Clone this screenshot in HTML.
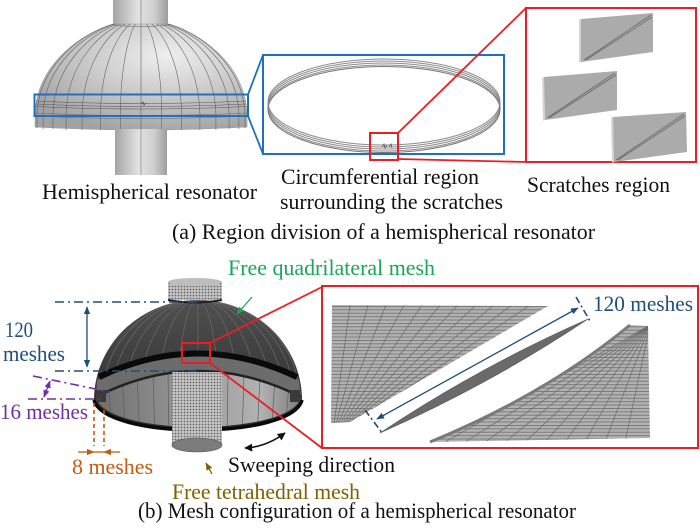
<!DOCTYPE html>
<html><head><meta charset="utf-8"><style>
html,body{margin:0;padding:0;background:#fff;}
svg{display:block;}
text{font-family:"Liberation Serif","Times New Roman",serif;font-size:22px;}
</style></head><body>
<svg width="700" height="531" viewBox="0 0 700 531" xmlns="http://www.w3.org/2000/svg">
<defs>
<linearGradient id="cyl" x1="0" x2="1" y1="0" y2="0">
<stop offset="0" stop-color="#a4a4a4"/><stop offset="0.45" stop-color="#e2e2e2"/><stop offset="0.75" stop-color="#cfcfcf"/><stop offset="1" stop-color="#9c9c9c"/></linearGradient>
<radialGradient id="domeG" cx="0.62" cy="0.3" r="0.75">
<stop offset="0" stop-color="#efefef"/><stop offset="0.5" stop-color="#cacaca"/><stop offset="1" stop-color="#a2a2a2"/></radialGradient>
<linearGradient id="darkG" x1="0" x2="0" y1="0" y2="1">
<stop offset="0" stop-color="#505050"/><stop offset="1" stop-color="#2a2a2a"/></linearGradient>
<linearGradient id="inG" x1="0" x2="1" y1="0" y2="0">
<stop offset="0" stop-color="#6e6e6e"/><stop offset="0.5" stop-color="#9c9c9c"/><stop offset="0.8" stop-color="#b2b2b2"/><stop offset="1" stop-color="#7e7e7e"/></linearGradient>
<pattern id="dots" width="3" height="3" patternUnits="userSpaceOnUse"><rect width="3" height="3" fill="#c4c4c4"/><circle cx="1.5" cy="1.5" r="0.85" fill="#646464"/></pattern>
<pattern id="hl" width="10" height="3.4" patternUnits="userSpaceOnUse"><rect width="10" height="3.4" fill="#b2b2b2"/><rect width="10" height="0.8" fill="#707070"/></pattern>
<clipPath id="ltri"><path d="M332,305 L548,306 L350,422 L331,423 Z"/></clipPath>
<clipPath id="rtri"><path d="M430,442 Q545,395 630,325 L648,326 L650,438 Z"/></clipPath>
<clipPath id="domeC"><path d="M94,400 A104,100 0 0 1 302,400 Z"/></clipPath>
<clipPath id="inC"><path d="M96,397 Q198,345 301,397 C292,437 104,437 96,397 Z"/></clipPath>
<marker id="mN" viewBox="0 0 10 10" refX="9" refY="5" markerWidth="6" markerHeight="6" orient="auto-start-reverse"><path d="M0,1 L10,5 L0,9 z" fill="#1f4e79"/></marker>
<marker id="mP" viewBox="0 0 10 10" refX="9" refY="5" markerWidth="6" markerHeight="6" orient="auto-start-reverse"><path d="M0,1 L10,5 L0,9 z" fill="#7030a0"/></marker>
<marker id="mO" viewBox="0 0 10 10" refX="9" refY="5" markerWidth="6" markerHeight="6" orient="auto-start-reverse"><path d="M0,1 L10,5 L0,9 z" fill="#c55a11"/></marker>
<marker id="mG" viewBox="0 0 10 10" refX="9" refY="5" markerWidth="6" markerHeight="6" orient="auto-start-reverse"><path d="M0,1 L10,5 L0,9 z" fill="#1aa557"/></marker>
<marker id="mB" viewBox="0 0 10 10" refX="9" refY="5" markerWidth="5" markerHeight="5" orient="auto-start-reverse"><path d="M0,0 L10,5 L0,10 z" fill="#111"/></marker>
<marker id="mY" viewBox="0 0 10 10" refX="9" refY="5" markerWidth="6" markerHeight="6" orient="auto-start-reverse"><path d="M0,1 L10,5 L0,9 z" fill="#7f6000"/></marker>
</defs>

<!-- ===== TOP RESONATOR ===== -->
<rect x="113" y="0" width="55" height="25" fill="url(#cyl)"/>
<line x1="141" y1="0" x2="141" y2="24" stroke="#777" stroke-width="0.6"/>
<path d="M35,114 C37,62 85,32 113,24 L169,24 C197,32 245,62 247,114 L247,127 Q141,133 35,127 Z" fill="url(#domeG)" stroke="#999" stroke-width="0.6"/>
<g fill="none" stroke="#666" stroke-width="0.6">
<path d="M168.5,24 C195.9,32 243,62 245,114 L245,128"/>
<path d="M166.9,24 C192.7,32 237.1,62 238.9,114 L238.9,129"/>
<path d="M164.3,24 C187.5,32 227.4,62 229.1,114 L229.1,129"/>
<path d="M160.8,24 C180.6,32 214.5,62 215.9,114 L215.9,130"/>
<path d="M156.6,24 C172.1,32 198.8,62 199.9,114 L199.9,130"/>
<path d="M151.7,24 C162.4,32 180.8,62 181.6,114 L181.6,130"/>
<path d="M146.5,24 C151.9,32 161.3,62 161.7,114 L161.7,130"/>
<path d="M141,24 L141,130"/>
<path d="M135.5,24 C130.1,32 120.7,62 120.3,114 L120.3,130"/>
<path d="M130.3,24 C119.6,32 101.2,62 100.4,114 L100.4,130"/>
<path d="M125.4,24 C109.9,32 83.2,62 82.1,114 L82.1,130"/>
<path d="M121.2,24 C101.4,32 67.5,62 66.1,114 L66.1,130"/>
<path d="M117.7,24 C94.5,32 54.6,62 52.9,114 L52.9,129"/>
<path d="M115.1,24 C89.3,32 44.9,62 43.1,114 L43.1,129"/>
<path d="M113.5,24 C86.1,32 39,62 37,114 L37,128"/>
<path d="M113,25 Q141,28 169,25"/>
<path d="M36,101 Q141,106 246,101" stroke="#555"/>
<path d="M36,104 Q141,109 246,104" stroke="#555"/>
<path d="M36,106.5 Q141,111.5 246,106.5" stroke="#555"/>
<path d="M35,113 Q141,118 247,113"/>
<path d="M35,116 Q141,121 247,116"/>
</g>
<path d="M141,104 l2,-2 l1,3 l2,-2" stroke="#444" stroke-width="0.7" fill="none"/>
<rect x="115" y="129" width="52" height="46" fill="url(#cyl)"/>
<line x1="141" y1="129" x2="141" y2="175" stroke="#777" stroke-width="0.6"/>
<rect x="34.5" y="94.5" width="213.5" height="21.5" fill="none" stroke="#2070c0" stroke-width="2"/>
<line x1="248" y1="94.5" x2="263" y2="55" stroke="#2070c0" stroke-width="1.8"/>
<line x1="248" y1="116" x2="263" y2="154" stroke="#2070c0" stroke-width="1.8"/>

<!-- ===== RING ===== -->
<rect x="263" y="55" width="241" height="99" fill="none" stroke="#2070c0" stroke-width="2"/>
<g fill="none" stroke="#8d8d8d" stroke-width="1">
<ellipse cx="384" cy="102" rx="116" ry="43"/>
<ellipse cx="384" cy="104" rx="116" ry="43"/>
<ellipse cx="384" cy="106" rx="116" ry="43"/>
<ellipse cx="384" cy="108" rx="116" ry="43"/>
<ellipse cx="384" cy="109.5" rx="116" ry="43" stroke="#777"/>
</g>
<path d="M382,147 l2,-3 l1,4 l2,-3 M389,147 l2,-3 l1,4" stroke="#444" stroke-width="0.7" fill="none"/>
<rect x="370" y="133" width="28" height="27" fill="none" stroke="#ee1c24" stroke-width="2"/>
<line x1="398" y1="133" x2="526" y2="8" stroke="#ee1c24" stroke-width="1.8"/>
<line x1="398" y1="159" x2="526" y2="162" stroke="#ee1c24" stroke-width="1.8"/>

<!-- ===== SCRATCHES ===== -->
<rect x="526" y="8" width="170" height="154" fill="none" stroke="#ee1c24" stroke-width="2"/>
<g stroke-width="0.8">
<path d="M579,20 L581,19 L581,62 L579,63 Z" fill="#d4d4d4"/>
<path d="M581,19 L653,13 L653,52 L581,62 Z" fill="#ababab"/>
<path d="M584,60 L651,15 M586,60 L652,17" stroke="#666" fill="none"/>
<path d="M542,78 L544,77 L545,120 L543,121 Z" fill="#d4d4d4"/>
<path d="M544,77 L617,71 L617,110 L545,120 Z" fill="#ababab"/>
<path d="M547,118 L615,73 M549,118 L616,75" stroke="#666" fill="none"/>
<path d="M611,118 L613,117 L614,162 L612,163 Z" fill="#d4d4d4"/>
<path d="M613,117 L686,112 L687,152 L614,162 Z" fill="#ababab"/>
<path d="M616,160 L684,114 M618,160 L685,116" stroke="#666" fill="none"/>
</g>

<!-- ===== TOP TEXT ===== -->
<text x="42" y="199" textLength="215" lengthAdjust="spacingAndGlyphs" fill="#111">Hemispherical resonator</text>
<text x="281" y="184" textLength="198" lengthAdjust="spacingAndGlyphs" fill="#111">Circumferential region</text>
<text x="280" y="209" textLength="223" lengthAdjust="spacingAndGlyphs" fill="#111">surrounding the scratches</text>
<text x="527" y="192" textLength="143" lengthAdjust="spacingAndGlyphs" fill="#111">Scratches region</text>
<text x="172" y="239" textLength="423" lengthAdjust="spacingAndGlyphs" fill="#111">(a) Region division of a hemispherical resonator</text>

<!-- ===== BOTTOM RESONATOR ===== -->
<path d="M94,400 A104,100 0 0 1 302,400 C292,440 104,440 94,400 Z" fill="url(#darkG)"/>
<g clip-path="url(#domeC)" fill="none" stroke="#6a6a6a" stroke-width="0.7">
<path d="M198,300 A102,100 0 0 1 300,400"/>
<path d="M198,300 A96,100 0 0 1 294,400"/>
<path d="M198,300 A86,100 0 0 1 284,400"/>
<path d="M198,300 A73,100 0 0 1 271,400"/>
<path d="M198,300 A58,100 0 0 1 256,400"/>
<path d="M198,300 A40,100 0 0 1 238,400"/>
<path d="M198,300 A20,100 0 0 1 218,400"/>
<path d="M198,300 L198,400"/>
<path d="M198,300 A20,100 0 0 0 178,400"/>
<path d="M198,300 A40,100 0 0 0 158,400"/>
<path d="M198,300 A58,100 0 0 0 140,400"/>
<path d="M198,300 A73,100 0 0 0 125,400"/>
<path d="M198,300 A86,100 0 0 0 112,400"/>
<path d="M198,300 A96,100 0 0 0 102,400"/>
</g>
<!-- lower outer shell stripe -->
<path d="M97,380 Q198,332 299,380 L301,397 Q198,345 96,397 Z" fill="#6c6c6c"/>
<path d="M99,377 Q198,330 297,377" fill="none" stroke="#0a0a0a" stroke-width="6"/>
<path d="M96,397 Q198,345 301,397 C292,437 104,437 96,397 Z" fill="url(#inG)"/>
<g clip-path="url(#inC)" stroke="#5e5e5e" stroke-width="0.7">
<line x1="108" y1="385" x2="112" y2="430"/><line x1="122" y1="380" x2="126" y2="436"/>
<line x1="137" y1="376" x2="140" y2="440"/><line x1="153" y1="373" x2="155" y2="442"/>
<line x1="168" y1="372" x2="169" y2="444"/><line x1="228" y1="372" x2="227" y2="444"/>
<line x1="244" y1="373" x2="242" y2="442"/><line x1="260" y1="376" x2="257" y2="440"/>
<line x1="275" y1="380" x2="271" y2="436"/><line x1="289" y1="385" x2="285" y2="430"/>
</g>
<path d="M96,397 Q198,345 301,397" fill="none" stroke="#222" stroke-width="2.5"/>
<path d="M94,400 C104,440 292,440 302,400" fill="none" stroke="#0a0a0a" stroke-width="3.5"/>
<rect x="96" y="390" width="10" height="12" fill="#3a3a3a"/>
<rect x="290" y="390" width="10" height="12" fill="#3a3a3a"/>
<!-- stem -->
<rect x="172" y="372" width="50" height="73" fill="url(#dots)"/>
<ellipse cx="197" cy="445" rx="25" ry="7" fill="#7c7c7c" stroke="#555" stroke-width="0.6"/>
<!-- top cylinder -->
<rect x="168" y="282" width="54" height="18" fill="url(#dots)"/>
<ellipse cx="195" cy="282" rx="27" ry="4" fill="#bdbdbd"/>
<path d="M168,300 Q195,305 222,300" fill="none" stroke="#222" stroke-width="2"/>

<rect x="182" y="343" width="28" height="20" fill="none" stroke="#ee1c24" stroke-width="2"/>
<line x1="210" y1="343" x2="322" y2="287" stroke="#ee1c24" stroke-width="1.8"/>
<line x1="210" y1="363" x2="322" y2="448" stroke="#ee1c24" stroke-width="1.8"/>

<!-- ===== MESH DETAIL ===== -->
<rect x="322" y="286" width="376" height="162" fill="none" stroke="#ee1c24" stroke-width="2"/>
<path d="M332,305 L548,306 L350,422 L331,423 Z" fill="url(#hl)"/>
<g clip-path="url(#ltri)" stroke="#6a6a6a" stroke-width="0.7">
<line x1="350" y1="305" x2="333" y2="432"/><line x1="368" y1="305" x2="334" y2="432"/>
<line x1="386" y1="305" x2="335" y2="432"/><line x1="404" y1="305" x2="336" y2="432"/>
<line x1="422" y1="305" x2="337" y2="432"/><line x1="440" y1="305" x2="338" y2="432"/>
<line x1="458" y1="305" x2="339" y2="432"/><line x1="476" y1="305" x2="340" y2="432"/>
<line x1="494" y1="305" x2="341" y2="432"/><line x1="512" y1="305" x2="342" y2="432"/>
<line x1="530" y1="305" x2="343" y2="432"/>
</g>
<path d="M380,433 Q479,367 588,319 Q489,385 380,433 Z" fill="#6a6a6a" stroke="#555" stroke-width="0.6"/>
<path d="M430,442 Q545,395 630,325 L648,326 L650,438 Z" fill="url(#hl)"/>
<g clip-path="url(#rtri)" stroke="#6a6a6a" stroke-width="0.7">
<line x1="650" y1="325" x2="445" y2="442"/><line x1="650" y1="325" x2="465" y2="442"/>
<line x1="650" y1="325" x2="485" y2="442"/><line x1="650" y1="325" x2="505" y2="442"/>
<line x1="650" y1="325" x2="525" y2="442"/><line x1="650" y1="325" x2="545" y2="442"/>
<line x1="650" y1="325" x2="565" y2="442"/><line x1="650" y1="325" x2="585" y2="442"/>
<line x1="650" y1="325" x2="605" y2="442"/><line x1="650" y1="325" x2="625" y2="442"/>
</g>
<path d="M430,442 Q545,395 630,325" fill="none" stroke="#7a7a7a" stroke-width="3"/>
<line x1="377" y1="419" x2="578" y2="308" stroke="#1f4e79" stroke-width="1.3" marker-start="url(#mN)" marker-end="url(#mN)"/>
<line x1="365" y1="410" x2="383" y2="434" stroke="#1f4e79" stroke-width="1.6" stroke-dasharray="7 3 2 3"/>
<line x1="576" y1="297" x2="590" y2="321" stroke="#1f4e79" stroke-width="1.6" stroke-dasharray="7 3 2 3"/>
<text x="593" y="311" textLength="100" lengthAdjust="spacingAndGlyphs" fill="#1f4e79">120 meshes</text>

<!-- ===== ANNOTATIONS ===== -->
<line x1="55" y1="302" x2="200" y2="302" stroke="#1f4e79" stroke-width="1.6" stroke-dasharray="9 4 2 4"/>
<line x1="55" y1="371" x2="200" y2="371" stroke="#1f4e79" stroke-width="1.6" stroke-dasharray="9 4 2 4"/>
<line x1="87" y1="307" x2="87" y2="367" stroke="#1f4e79" stroke-width="1.3" marker-start="url(#mN)" marker-end="url(#mN)"/>
<text x="5" y="337" textLength="28" lengthAdjust="spacingAndGlyphs" fill="#1f4e79">120</text>
<text x="3" y="361" textLength="62" lengthAdjust="spacingAndGlyphs" fill="#1f4e79">meshes</text>

<line x1="33" y1="376" x2="110" y2="392" stroke="#7030a0" stroke-width="1.6" stroke-dasharray="9 4 2 4"/>
<line x1="28" y1="399" x2="103" y2="399" stroke="#7030a0" stroke-width="1.6" stroke-dasharray="9 4 2 4"/>
<line x1="50" y1="381" x2="44" y2="397" stroke="#7030a0" stroke-width="1.3" marker-start="url(#mP)" marker-end="url(#mP)"/>
<text x="0" y="419" textLength="88" lengthAdjust="spacingAndGlyphs" fill="#7030a0">16 meshes</text>

<line x1="94" y1="403" x2="94" y2="446" stroke="#c55a11" stroke-width="1.6" stroke-dasharray="4 3"/>
<line x1="104" y1="403" x2="104" y2="446" stroke="#c55a11" stroke-width="1.6" stroke-dasharray="4 3"/>
<line x1="78" y1="452" x2="94" y2="452" stroke="#c55a11" stroke-width="1.3" marker-end="url(#mO)"/>
<line x1="120" y1="452" x2="104" y2="452" stroke="#c55a11" stroke-width="1.3" marker-end="url(#mO)"/>
<line x1="94" y1="452" x2="104" y2="452" stroke="#c55a11" stroke-width="1.3"/>
<text x="72" y="474" textLength="81" lengthAdjust="spacingAndGlyphs" fill="#c55a11">8 meshes</text>

<line x1="252" y1="297" x2="237" y2="314" stroke="#1aa557" stroke-width="1.3" marker-end="url(#mG)"/>
<text x="228" y="275" textLength="207" lengthAdjust="spacingAndGlyphs" fill="#1aa557">Free quadrilateral mesh</text>

<path d="M245,448 Q266,447 285,433" fill="none" stroke="#111" stroke-width="1.6" marker-start="url(#mB)" marker-end="url(#mB)"/>
<text x="228" y="472" textLength="167" lengthAdjust="spacingAndGlyphs" fill="#111">Sweeping direction</text>

<line x1="212" y1="474" x2="206" y2="463" stroke="#7f6000" stroke-width="1.3" marker-end="url(#mY)"/>
<text x="172" y="499" textLength="188" lengthAdjust="spacingAndGlyphs" fill="#7f6000">Free tetrahedral mesh</text>
<text x="138" y="518" textLength="438" lengthAdjust="spacingAndGlyphs" fill="#111">(b) Mesh configuration of a hemispherical resonator</text>
</svg>
</body></html>
